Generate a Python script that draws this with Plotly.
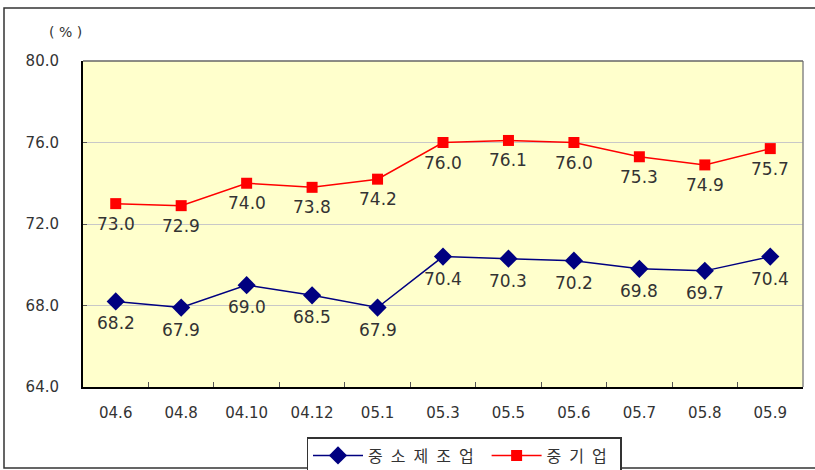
import plotly.graph_objects as go

categories = ["04.6", "04.8", "04.10", "04.12", "05.1", "05.3", "05.5", "05.6", "05.7", "05.8", "05.9"]
sme_mfg = [68.2, 67.9, 69.0, 68.5, 67.9, 70.4, 70.3, 70.2, 69.8, 69.7, 70.4]
sme_all = [73.0, 72.9, 74.0, 73.8, 74.2, 76.0, 76.1, 76.0, 75.3, 74.9, 75.7]
y_ticks = [64, 68, 72, 76, 80]
y_tick_labels = ["64.0", "68.0", "72.0", "76.0", "80.0"]

FONT = "DejaVu Sans, Noto Sans CJK KR, sans-serif"
SP = "\u2002"

L, R, T, B = 83, 803, 61, 387
PW, PH = R - L, B - T

fig = go.Figure()
fig.add_trace(go.Scatter(
    x=categories, y=sme_mfg, name=SP.join("중소제조업") + SP,
    mode="lines+markers",
    line=dict(color="#000080", width=1.5),
    marker=dict(symbol="diamond", size=14, color="#000080"),
))
fig.add_trace(go.Scatter(
    x=categories, y=sme_all, name=SP.join("중기업") + SP,
    mode="lines+markers",
    line=dict(color="#FF0000", width=1.5),
    marker=dict(symbol="square", size=11, color="#FF0000"),
))

annotations = []
for series, shift in ((sme_mfg, -22), (sme_all, -20)):
    for i, v in enumerate(series):
        annotations.append(dict(
            x=i, y=v, xref="x", yref="y", text=f"{v:.1f}", showarrow=False,
            xanchor="center", yanchor="middle", yshift=shift,
            font=dict(size=17, color="#333333", family=FONT),
        ))
annotations.append(dict(
    text="( % )", xref="paper", yref="paper", x=(65 - L) / PW, y=(B - 32) / PH,
    xanchor="center", yanchor="middle", showarrow=False,
    font=dict(size=14, color="#333333", family=FONT),
))

fig.update_layout(
    width=815, height=470,
    margin=dict(l=L, r=815 - R, t=T, b=470 - B, autoexpand=False),
    paper_bgcolor="white",
    plot_bgcolor="#FFFFCC",
    font=dict(family=FONT, color="#333333", size=15),
    showlegend=True,
    legend=dict(
        orientation="h", x=(464 - L) / PW, xanchor="center", y=(B - 437) / PH, yanchor="top",
        bordercolor="#333333", borderwidth=1.5, bgcolor="white",
        font=dict(size=16, color="#333333", family=FONT),
        itemwidth=50,
    ),
    xaxis=dict(
        type="category", range=[-0.5, len(categories) - 0.5],
        showgrid=False, showline=True, linecolor="#000000", linewidth=2,
        ticks="inside", tickson="boundaries", ticklen=5, tickcolor="#555555",
        tickfont=dict(size=15, color="#333333"), ticklabelstandoff=11,
        zeroline=False, automargin=False,
    ),
    yaxis=dict(
        range=[64, 80], tickvals=y_ticks, ticktext=y_tick_labels,
        showgrid=True, gridcolor="#C8C8C8", gridwidth=1,
        showline=True, linecolor="#000000", linewidth=2,
        ticks="inside", ticklen=4, tickcolor="#555555",
        tickfont=dict(size=15, color="#333333"), ticklabelstandoff=19,
        zeroline=False, automargin=False,
    ),
    annotations=annotations,
    shapes=[
        dict(type="rect", xref="paper", yref="paper",
             x0=(4 - L) / PW, x1=(822 - L) / PW, y0=(B - 468) / PH, y1=(B - 8) / PH,
             line=dict(color="#333333", width=1.5), layer="below"),
        dict(type="line", xref="paper", yref="paper", x0=1, x1=1, y0=0, y1=1,
             line=dict(color="#888888", width=1.5)),
        dict(type="line", xref="paper", yref="paper", x0=0, x1=1, y0=1, y1=1,
             line=dict(color="#666666", width=1.5)),
    ],
)

fig.write_html(
    "out.html",
    config={"displayModeBar": False},
    post_script="document.body.style.margin='0';document.body.style.overflow='hidden';",
)
